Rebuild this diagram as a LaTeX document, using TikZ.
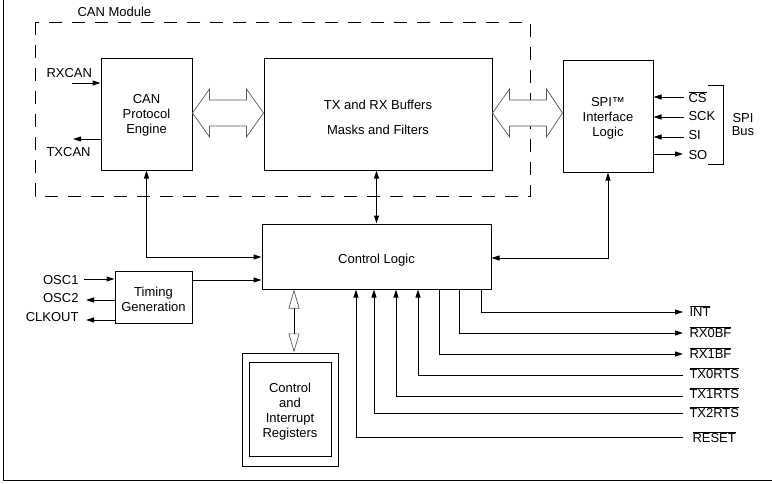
\documentclass[tikz,border=0pt]{standalone}
\usepackage{fontspec}
\setmainfont{Liberation Sans}
\usetikzlibrary{arrows.meta,calc}
\newcommand\ovl[1]{$\overline{\mbox{#1}}$}
\begin{document}
\begin{tikzpicture}[x=1pt,y=-1pt, line width=1pt,
  font=\fontsize{13}{15}\selectfont,
  box/.style={draw, rectangle, inner sep=0pt},
  txt/.style={align=center, inner sep=0pt},
  arr/.style={-{Triangle[length=8pt,width=5pt]}},
  dbl/.style={{Triangle[length=8pt,width=5pt]}-{Triangle[length=8pt,width=5pt]}},
  lbl/.style={inner sep=0pt, anchor=west},
  rlbl/.style={inner sep=0pt, anchor=east},
  fat/.style={draw=black!65, fill=white, line width=0.7pt, line join=miter},
  hol/.style={{Triangle[open,length=19pt,width=11pt,color=black!65,line width=0.7pt]}-{Triangle[open,length=19pt,width=11pt,color=black!65,line width=0.7pt]}}
]
\useasboundingbox (0,0) rectangle (772,483);
% frame
\draw (3,0) -- (3,480) -- (772,480);
% CAN module
\draw[dash pattern=on 13pt off 10pt] (35,22) rectangle (530,196);
\node[lbl] (canlbl) at (77,12) {CAN Module};

% blocks
\node[box, minimum width=91pt, minimum height=112pt] (cpe) at (146.5,114) {};
\node[txt] (cpetxt) at ($(cpe)+(0,1)$) {CAN\\Protocol\\Engine};
\node[box, minimum width=228pt, minimum height=112pt] (buf) at (378,114) {};
\node[txt] (buftxt) at ($(buf)+(0,3)$) {TX and RX Buffers\\[10pt]Masks and Filters};
\node[box, minimum width=90pt, minimum height=112pt] (spi) at (608,116) {};
\node[txt] (spitxt) at ($(spi)+(0,2.5)$) {SPI™\\Interface\\Logic};
\node[box, minimum width=229pt, minimum height=65pt] (ctl) at (376.5,256.5) {};
\node[txt] (ctltxt) at ($(ctl)+(0,3.5)$) {Control Logic};
\node[box, minimum width=77pt, minimum height=52pt] (tg) at (153.5,297) {};
\node[txt] (tgtxt) at ($(tg)+(0,2)$) {Timing\\Generation};
\node[box, minimum width=96pt, minimum height=113pt] (reg) at (290,409.5) {};
\node[box, minimum width=82pt, minimum height=94pt] (regin) at (290,409) {};
\node[txt] (regtxt) at ($(regin)+(0,3)$) {Control\\and\\Interrupt\\Registers};

% fat arrows
\coordinate (fa1) at (cpe.east |- 0,113);
\coordinate (fb1) at (buf.west |- 0,113);
\draw[fat] (fa1) -- ($(fa1)+(17,-24)$) -- ($(fa1)+(17,-13)$) -- ($(fb1)+(-17,-13)$) -- ($(fb1)+(-17,-24)$) -- (fb1)
  -- ($(fb1)+(-17,24)$) -- ($(fb1)+(-17,13)$) -- ($(fa1)+(17,13)$) -- ($(fa1)+(17,24)$) -- cycle;
\coordinate (fa2) at (buf.east |- 0,113);
\coordinate (fb2) at (spi.west |- 0,113);
\draw[fat] (fa2) -- ($(fa2)+(17,-24)$) -- ($(fa2)+(17,-13)$) -- ($(fb2)+(-16,-13)$) -- ($(fb2)+(-16,-24)$) -- (fb2)
  -- ($(fb2)+(-16,24)$) -- ($(fb2)+(-16,13)$) -- ($(fa2)+(17,13)$) -- ($(fa2)+(17,24)$) -- cycle;

% CAN bus
\coordinate (prx) at (72,83);
\coordinate (ptx) at (73,139);
\draw[arr] (prx) -- (cpe.west |- prx);
\draw[arr] (cpe.west |- ptx) -- (ptx);
\node[lbl] (lrx) at (46,73) {RXCAN};
\node[lbl] (ltx) at (46,152) {TXCAN};

% SPI signals
\coordinate (pcs) at (684,97);
\coordinate (psck) at (684,117);
\coordinate (psi) at (684,137);
\coordinate (pso) at (683,154);
\draw[arr] (pcs) -- (spi.east |- pcs);
\draw[arr] (psck) -- (spi.east |- psck);
\draw[arr] (psi) -- (spi.east |- psi);
\draw[arr] (spi.east |- pso) -- (pso);
\node[lbl] (lcs) at (688,97) {\ovl{CS}};
\node[lbl] (lsck) at (688,116) {SCK};
\node[lbl] (lsi) at (688,135) {SI};
\node[lbl] (lso) at (688,155) {SO};
\coordinate (bt) at (708,85);
\coordinate (bb) at (708,164);
\draw (bt) -| (723,164) -- (bb);
\node[align=center, inner sep=0pt, font=\fontsize{13}{13}\selectfont] (spibus) at (743,124.5) {SPI\\Bus};

% internal connections
\draw[dbl] (cpe.south) |- (ctl.west |- 0,257);
\draw[dbl] (ctl.north) -- (ctl.north |- buf.south);
\draw[dbl] (ctl.east |- 0,258) -| (spi.south);
\draw[arr] (tg.east |- 0,280) -- (ctl.west |- 0,280);
\draw[hol] (ctl.south -| 294,0) -- (reg.north -| 294,0);

% oscillator
\coordinate (posc1) at (84,279);
\coordinate (posc2) at (86,300);
\coordinate (pclk) at (86,320);
\draw[arr] (posc1) -- (tg.west |- posc1);
\draw[arr] (tg.west |- posc2) -- (posc2);
\draw[arr] (tg.west |- pclk) -- (pclk);
\node[rlbl] (losc1) at (79,280) {OSC1};
\node[rlbl] (losc2) at (79,298) {OSC2};
\node[rlbl] (lclk) at (79,317) {CLKOUT};

% control signals
\coordinate (pint) at (683,312);
\coordinate (prx0) at (683,333);
\coordinate (prx1) at (683,354);
\coordinate (ptx0) at (683,375);
\coordinate (ptx1) at (683,396);
\coordinate (ptx2) at (683,413);
\coordinate (prst) at (683,437);
\draw[arr] (ctl.south -| 481,0) |- (pint);
\draw[arr] (ctl.south -| 459,0) |- (prx0);
\draw[arr] (ctl.south -| 439,0) |- (prx1);
\draw[arr] (ptx0) -| (ctl.south -| 418,0);
\draw[arr] (ptx1) -| (ctl.south -| 396,0);
\draw[arr] (ptx2) -| (ctl.south -| 374,0);
\draw[arr] (prst) -| (ctl.south -| 356,0);
\node[lbl] (lint) at (689,311) {\ovl{INT}};
\node[lbl] (lrx0) at (689,332) {\ovl{RX0BF}};
\node[lbl] (lrx1) at (689,353) {\ovl{RX1BF}};
\node[lbl] (ltx0) at (689,373) {\ovl{TX0RTS}};
\node[lbl] (ltx1) at (689,393) {\ovl{TX1RTS}};
\node[lbl] (ltx2) at (689,412) {\ovl{TX2RTS}};
\node[lbl] (lrst) at (692,437) {\ovl{RESET}};
\end{tikzpicture}
\end{document}
